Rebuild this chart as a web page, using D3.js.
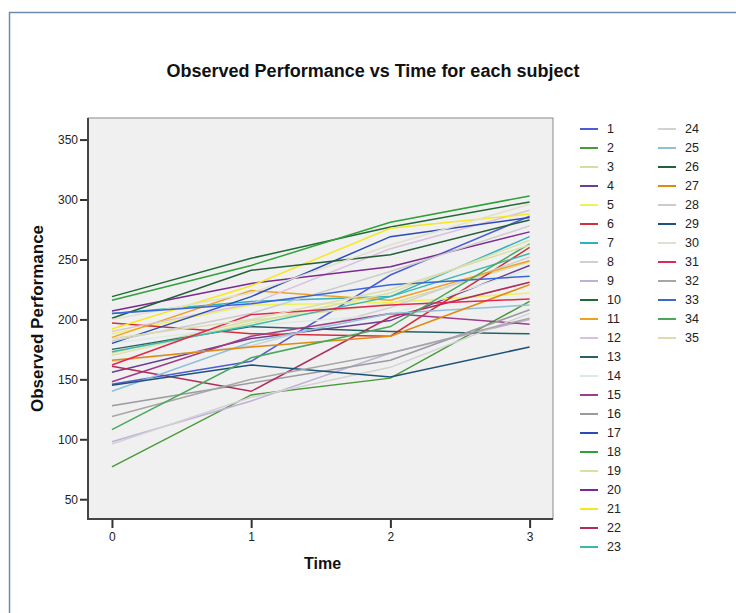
<!DOCTYPE html>
<html>
<head>
<meta charset="utf-8">
<script src="https://cdn.jsdelivr.net/npm/d3@7"></script>
<style>
  body { margin: 0; background: #fff; }
  svg { display: block; font-family: Arial, "Liberation Sans", sans-serif; }
</style>
</head>
<body>
<svg id="chart" width="736" height="613"></svg>
<script>
// time points
const times = [0, 1, 2, 3]

// subject ids
const subjects = d3.range(1, 36)

// observed performance per subject, at time 0..3
const s1 = [146, 165, 237, 286]
const s2 = [77, 137, 151, 215]
const s3 = [172, 199, 213, 248]
const s4 = [156, 184, 199, 245]
const s5 = [188, 212, 214, 222]
const s6 = [197, 188, 186, 260]
const s7 = [205, 215, 219, 269]
const s8 = [165, 178, 210, 252]
const s9 = [98, 132, 172, 200]
const s10 = [219, 251, 277, 298]
const s11 = [185, 224, 216, 249]
const s12 = [190, 213, 259, 291]
const s13 = [175, 194, 190, 188]
const s14 = [180, 195, 204, 242]
const s15 = [148, 186, 205, 196]
const s16 = [128, 147, 166, 208]
const s17 = [180, 219, 269, 285]
const s18 = [216, 245, 281, 303]
const s19 = [170, 197, 222, 266]
const s20 = [207, 230, 244, 273]
const s21 = [192, 228, 276, 288]
const s22 = [161, 140, 202, 231]
const s23 = [173, 195, 219, 255]
const s24 = [96, 135, 160, 205]
const s25 = [140, 181, 205, 212]
const s26 = [201, 241, 254, 283]
const s27 = [166, 177, 186, 229]
const s28 = [182, 205, 240, 278]
const s29 = [145, 162, 152, 177]
const s30 = [200, 222, 262, 296]
const s31 = [162, 204, 212, 217]
const s32 = [119, 150, 172, 201]
const s33 = [205, 213, 229, 236]
const s34 = [108, 168, 194, 263]
const s35 = [184, 200, 225, 262]

const values = [s1, s2, s3, s4, s5, s6, s7, s8, s9, s10, s11, s12, s13, s14, s15, s16, s17, s18,
  s19, s20, s21, s22, s23, s24, s25, s26, s27, s28, s29, s30, s31, s32, s33, s34, s35]

// y tick labels
const yTicks = [50, 100, 150, 200, 250, 300, 350]

// line colour per subject
const colors = ['#4f5bd5', '#4a9a3a', '#d7dca0', '#6b3f8f', '#eef25a', '#d0303a', '#30b0c0',
  '#d0d0d0', '#c0b0d8', '#1f6b35', '#f0a020', '#d8c0e0', '#2b6066', '#d8ece4', '#a03a8a',
  '#9a9aa2', '#2a4cb8', '#2fa03a', '#d8e2a0', '#7a2a90', '#f5e820', '#b02a5a', '#3cb8a8',
  '#d2d2d2', '#8fc0d8', '#24603a', '#e08a10', '#cccccc', '#1e5278', '#e0e0cc', '#e02850',
  '#a6a6a6', '#3a66d8', '#4aa85a', '#dcdcb0']

const svg = d3.select('#chart')

// 外框
svg.append('rect')
  .attr('x', 9.5)
  .attr('y', 12.5)
  .attr('width', 740)
  .attr('height', 620)
  .attr('fill', 'none')
  .attr('stroke', '#6d8cab')
  .attr('stroke-width', 1.5)

const plot = { left: 88, right: 553, top: 118, bottom: 519 }

const x = d3.scaleLinear()
  .domain([-0.172, 3.168])
  .range([plot.left, plot.right])

const y = d3.scaleLinear()
  .domain([33.5, 368])
  .range([plot.bottom, plot.top])

svg.append('text')
  .attr('x', 373)
  .attr('y', 77)
  .attr('text-anchor', 'middle')
  .style('font-size', '18px')
  .style('font-weight', 'bold')
  .attr('fill', '#111')
  .text('Observed Performance vs Time for each subject')

// 绘图区背景
svg.append('rect')
  .attr('x', plot.left)
  .attr('y', plot.top)
  .attr('width', plot.right - plot.left)
  .attr('height', plot.bottom - plot.top)
  .attr('fill', '#f0f0f0')
  .attr('stroke', '#8a8a8a')
  .attr('stroke-width', 1)

const line = d3.line()
  .x((d, i) => x(times[i]))
  .y(d => y(d))

svg.append('g')
  .attr('class', 'lines')
  .selectAll('path')
  .data(values)
  .enter().append('path')
  .attr('d', d => line(d))
  .attr('fill', 'none')
  .attr('stroke', (d, i) => colors[i])
  .attr('stroke-width', 1.5)

// axes
const yAxis = svg.append('g')
  .attr('transform', `translate(${plot.left},0)`)
  .call(d3.axisLeft(y).tickValues(yTicks).tickSize(8).tickPadding(2))

const xAxis = svg.append('g')
  .attr('transform', `translate(0,${plot.bottom})`)
  .call(d3.axisBottom(x).tickValues(times).tickFormat(d3.format('d')).tickSize(9).tickPadding(4))

;[yAxis, xAxis].forEach(g => {
  g.select('.domain').remove()
  g.selectAll('.tick line').attr('stroke', '#333').attr('stroke-width', 2)
  g.selectAll('.tick text')
    .attr('fill', '#222')
    .style('font-size', '12px')
    .style('font-family', 'Arial, "Liberation Sans", sans-serif')
})

svg.append('line')
  .attr('x1', plot.left).attr('x2', plot.left)
  .attr('y1', plot.top).attr('y2', plot.bottom + 1)
  .attr('stroke', '#444').attr('stroke-width', 2)

svg.append('line')
  .attr('x1', plot.left - 1).attr('x2', plot.right)
  .attr('y1', plot.bottom).attr('y2', plot.bottom)
  .attr('stroke', '#444').attr('stroke-width', 2)

svg.append('text')
  .attr('transform', `translate(43,${(plot.top + plot.bottom) / 2}) rotate(-90)`)
  .attr('text-anchor', 'middle')
  .style('font-size', '17px')
  .style('font-weight', 'bold')
  .attr('fill', '#111')
  .text('Observed Performance')

svg.append('text')
  .attr('x', (plot.left + plot.right) / 2 + 2)
  .attr('y', 569)
  .attr('text-anchor', 'middle')
  .style('font-size', '16px')
  .style('font-weight', 'bold')
  .attr('fill', '#111')
  .text('Time')

// legend, two columns
const perCol = 23
const rowH = 19
const legend = svg.append('g').attr('class', 'legend')

const item = legend.selectAll('.item')
  .data(subjects)
  .enter().append('g')
  .attr('class', 'item')
  .attr('transform', (d, i) => {
    const col = Math.floor(i / perCol)
    const row = i % perCol
    return `translate(${580 + col * 78},${129 + row * rowH})`
  })

item.append('line')
  .attr('x1', 0)
  .attr('x2', 18)
  .attr('stroke', (d, i) => colors[i])
  .attr('stroke-width', 2)

item.append('text')
  .attr('x', 27)
  .attr('dy', '.35em')
  .style('font-size', '12.5px')
  .attr('fill', '#222')
  .text(d => d)
</script>
</body>
</html>
